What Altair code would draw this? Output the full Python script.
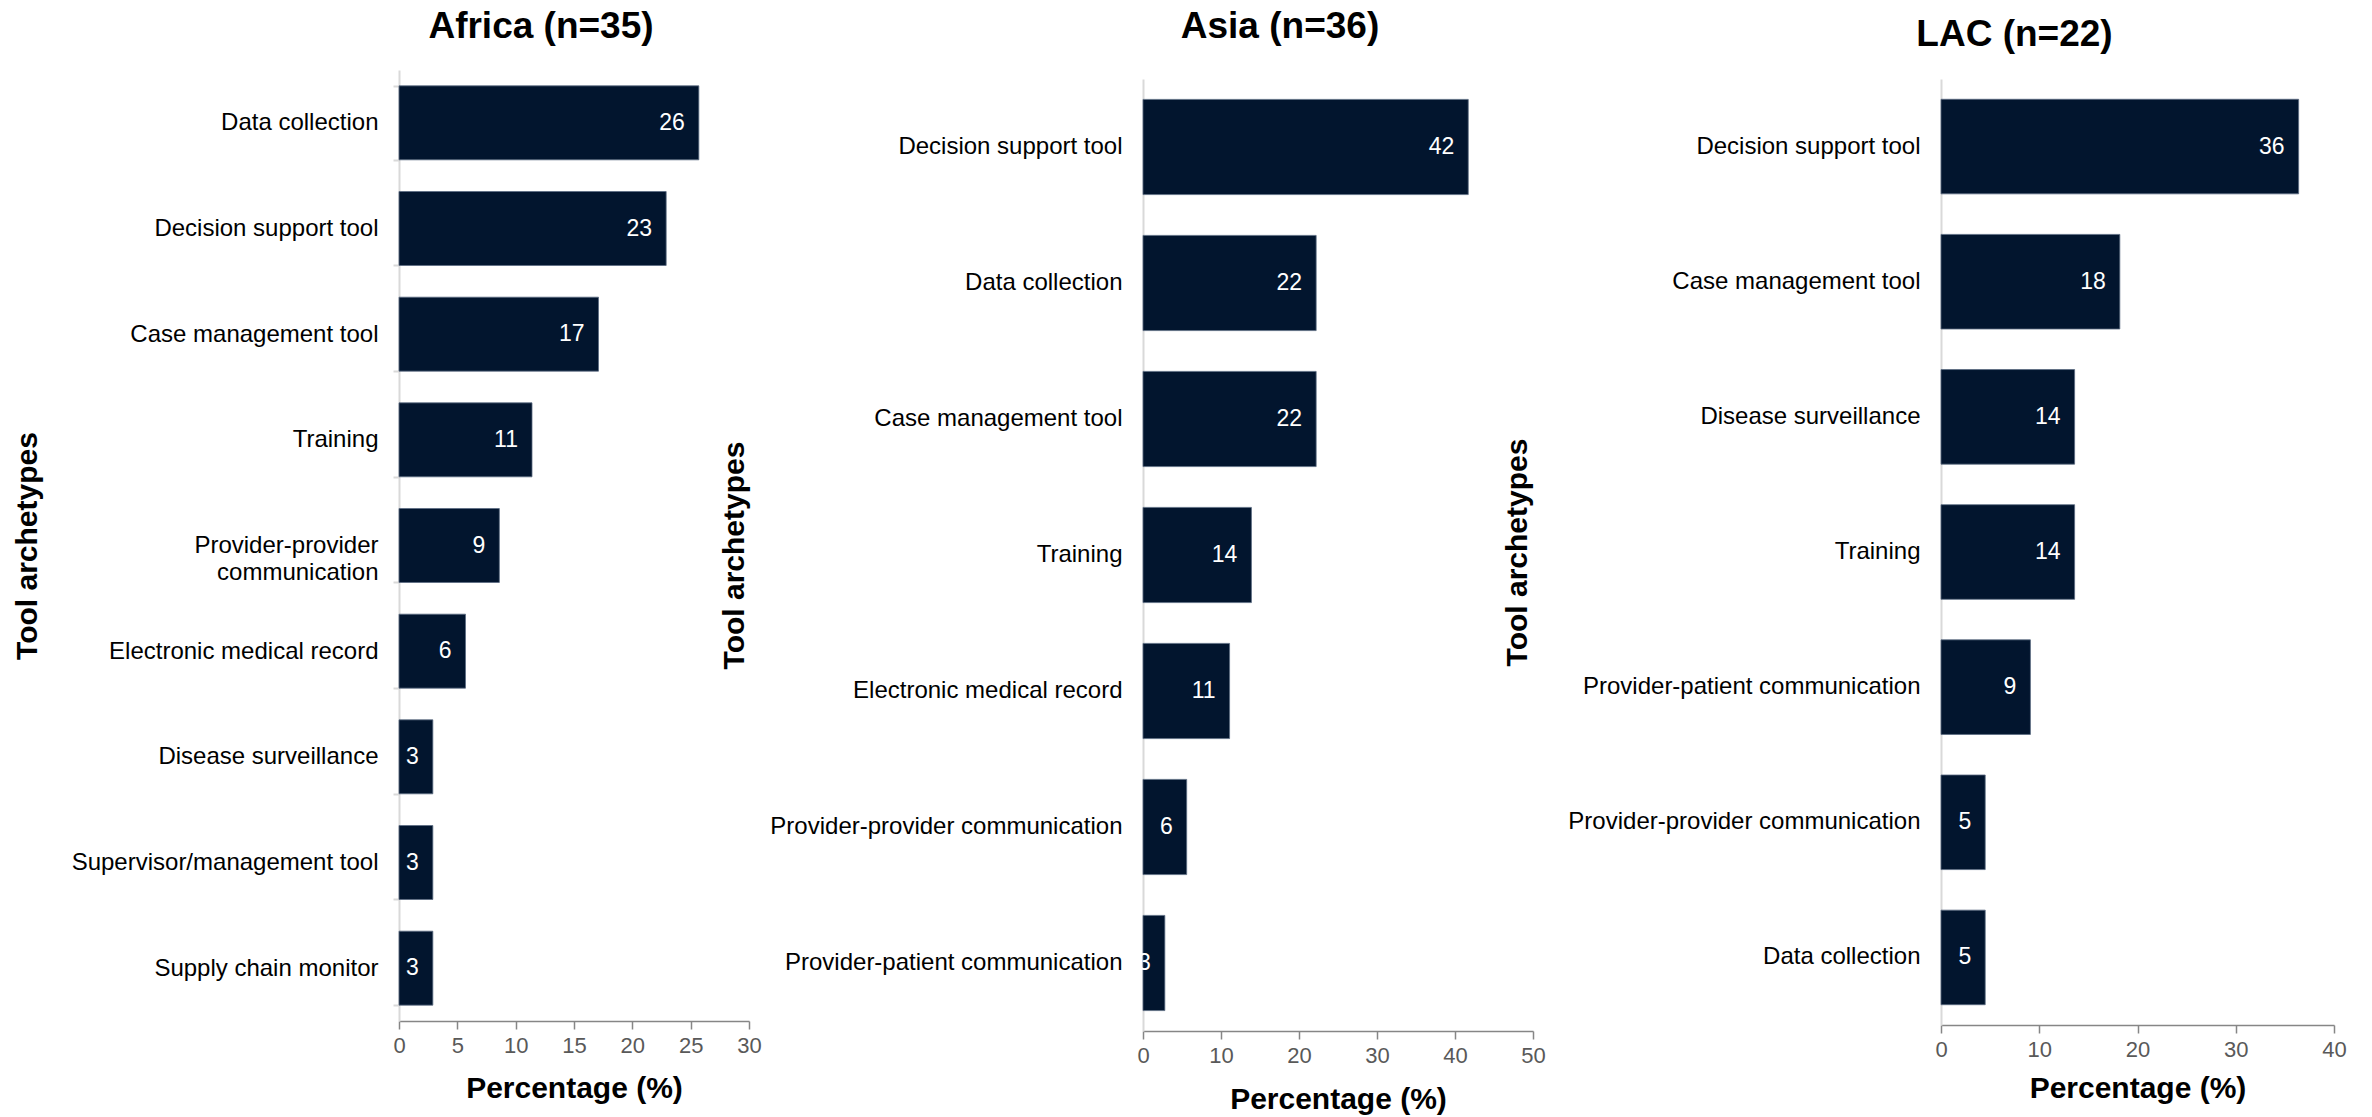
import altair as alt
import pandas as pd

# ---------------- data ----------------
africa_title = "Africa (n=35)"
africa_cats = ["Data collection", "Decision support tool", "Case management tool", "Training",
               "Provider-provider communication", "Electronic medical record",
               "Disease surveillance", "Supervisor/management tool", "Supply chain monitor"]
africa_vals = [25.7, 22.9, 17.1, 11.4, 8.6, 5.7, 2.9, 2.9, 2.9]
africa_labels = ["26", "23", "17", "11", "9", "6", "3", "3", "3"]
africa_ticks = [0, 5, 10, 15, 20, 25, 30]

asia_title = "Asia (n=36)"
asia_cats = ["Decision support tool", "Data collection", "Case management tool", "Training",
             "Electronic medical record", "Provider-provider communication",
             "Provider-patient communication"]
asia_vals = [41.7, 22.2, 22.2, 13.9, 11.1, 5.6, 2.8]
asia_labels = ["42", "22", "22", "14", "11", "6", "3"]
asia_ticks = [0, 10, 20, 30, 40, 50]

lac_title = "LAC (n=22)"
lac_cats = ["Decision support tool", "Case management tool", "Disease surveillance", "Training",
            "Provider-patient communication", "Provider-provider communication", "Data collection"]
lac_vals = [36.4, 18.2, 13.6, 13.6, 9.1, 4.5, 4.5]
lac_labels = ["36", "18", "14", "14", "9", "5", "5"]
lac_ticks = [0, 10, 20, 30, 40]

FONT = "Liberation Sans, Arial, sans-serif"
BAR = "#02152e"


def panel(cats, vals, labels, title, ticks, width, xrange, height, yrange,
          title_dx, title_offset, ytitle_x, band_ticks, label_expr=None, xtitle_y=66):
    df = pd.DataFrame({"cat": cats, "val": vals, "lab": labels})
    yaxis_kw = dict(
        title="Tool archetypes",
        titleFont=FONT, titleFontSize=30, titleFontWeight="bold", titleColor="#000000",
        titleX=ytitle_x, titleBaseline="middle", titleAngle=270,
        labelFont=FONT, labelFontSize=24, labelColor="#000000", labelLimit=600,
        labelLineHeight=27,
        domainColor="#d9d9d9", domainWidth=2, grid=False,
    )
    if band_ticks:
        yaxis_kw.update(ticks=True, tickBand="extent", tickSize=6, tickColor="#d9d9d9",
                        tickWidth=2, labelPadding=15)
    else:
        yaxis_kw.update(ticks=False, labelPadding=21)
    if label_expr:
        yaxis_kw["labelExpr"] = label_expr
    y = alt.Y("cat:N", sort=cats,
              scale=alt.Scale(range=yrange, paddingInner=0.3, paddingOuter=0.15),
              axis=alt.Axis(**yaxis_kw))
    x = alt.X("val:Q",
              scale=alt.Scale(domain=[ticks[0], ticks[-1]], range=xrange, nice=False),
              axis=alt.Axis(values=ticks, title="Percentage (%)", grid=False,
                            titleFont=FONT, titleFontSize=30, titleFontWeight="bold",
                            titleColor="#000000", titleY=xtitle_y, titleBaseline="middle",
                            labelFont=FONT, labelFontSize=22, labelColor="#595959",
                            labelPadding=6, labelFlush=False,
                            domainColor="#868686", domainWidth=1.5,
                            tickColor="#868686", tickWidth=1.5, tickSize=8))
    bars = alt.Chart(df).mark_bar(color=BAR, stroke="#5b6b82", strokeWidth=0.8).encode(x=x, y=y)
    text = alt.Chart(df).mark_text(align="right", baseline="middle", dx=-14, color="white",
                                   font=FONT, fontSize=23).encode(
        x=alt.X("val:Q"), y=alt.Y("cat:N", sort=cats), text="lab:N")
    return alt.layer(bars, text).properties(
        width=width, height=height,
        title=alt.TitleParams(text=title, anchor="middle", frame="group", dx=title_dx,
                              offset=title_offset, font=FONT, fontSize=37,
                              fontWeight="bold", color="#000000"))


africa = panel(africa_cats, africa_vals, africa_labels, africa_title, africa_ticks,
               350, [0, 350], 951, [0, 951], -33, 12, -372, True,
               label_expr="datum.label == 'Provider-provider communication' ? "
                          "['Provider-provider', 'communication'] : datum.label",
               xtitle_y=67)
asia = panel(asia_cats, asia_vals, asia_labels, asia_title, asia_ticks,
             404, [0, 390], 961, [9, 961], -65, 24, -409, False, xtitle_y=68)
lac = panel(lac_cats, lac_vals, lac_labels, lac_title, lac_ticks,
            393, [0, 393], 955, [9, 955], -123, 16, -424, False, xtitle_y=63)

chart = alt.hconcat(africa, asia, lac, spacing=394, bounds="flush").properties(
    padding={"left": 12, "top": 8, "right": 5, "bottom": 5},
    background="white",
).configure_view(stroke="transparent", strokeWidth=0)

chart.save("out.html", embed_options={"renderer": "svg", "actions": False})
